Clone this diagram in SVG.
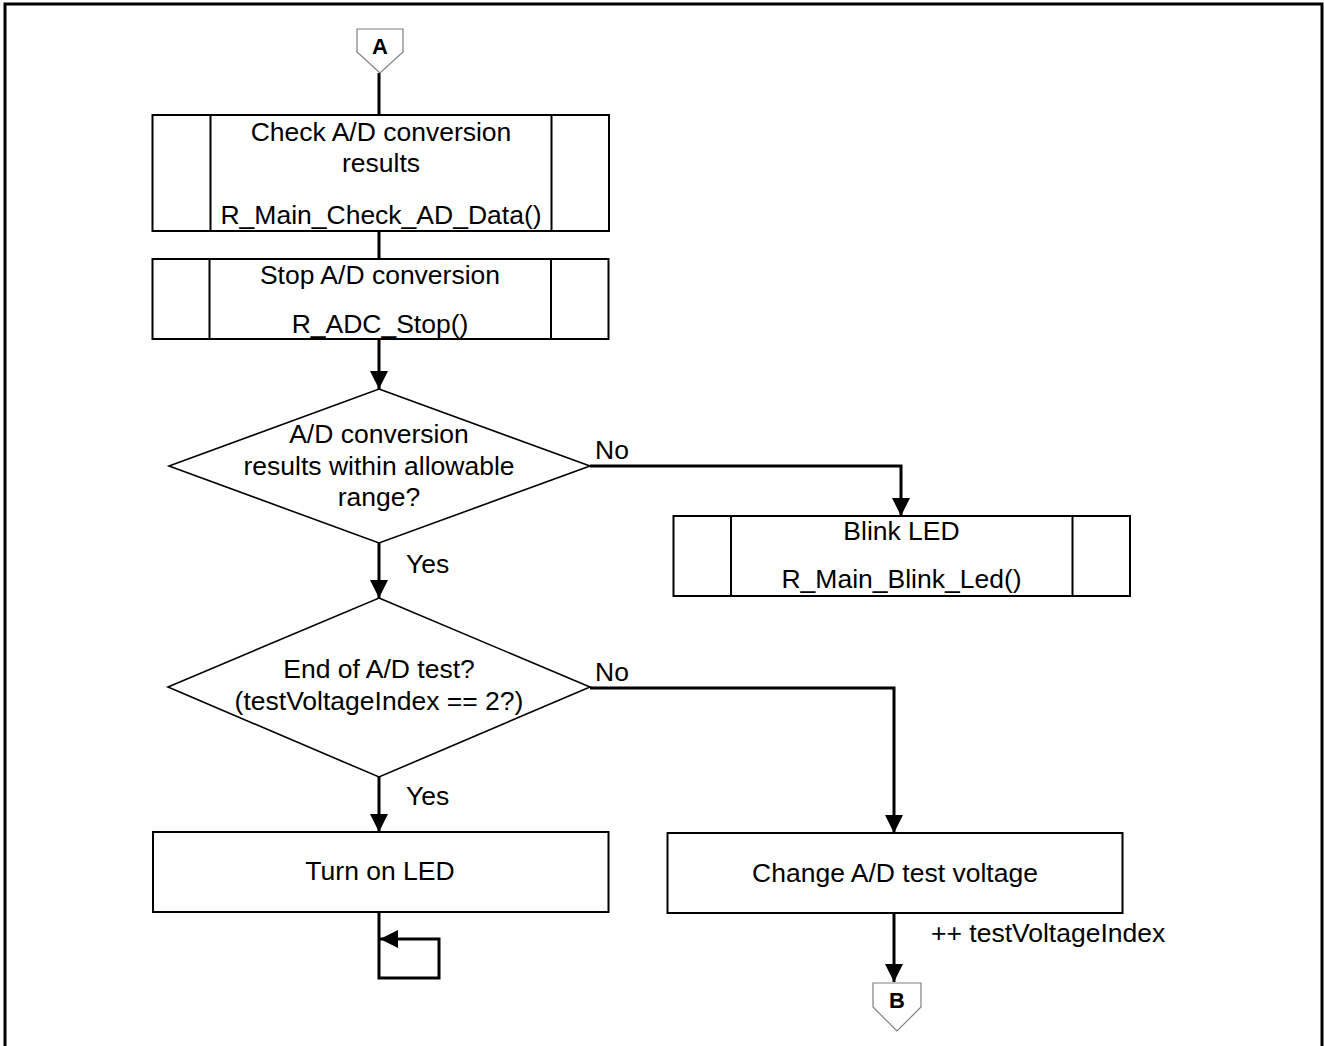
<svg xmlns="http://www.w3.org/2000/svg" width="1324" height="1046" viewBox="0 0 1324 1046">
<style>
  .box{fill:#fff;stroke:#000;stroke-width:2}
  .dia{fill:#fff;stroke:#000;stroke-width:1.6}
  .term{fill:#fff;stroke:#808080;stroke-width:1.2}
  .ln{fill:none;stroke:#000;stroke-width:3}
  .t{font-family:"Liberation Sans",Arial,sans-serif;font-size:26.5px;fill:#000;text-anchor:middle}
  .l{font-family:"Liberation Sans",Arial,sans-serif;font-size:26.5px;fill:#000}
  .tb{font-family:"Liberation Sans",Arial,sans-serif;font-size:22px;font-weight:bold;fill:#000;text-anchor:middle}
</style>
<defs>
  <marker id="arr" markerUnits="userSpaceOnUse" markerWidth="18" markerHeight="18" viewBox="0 0 16 16" refX="16" refY="8" orient="auto">
    <path d="M0,0 L16,8 L0,16 z" fill="#000"/>
  </marker>
</defs>
<rect x="5" y="4" width="1317" height="1070" fill="none" stroke="#000" stroke-width="3"/>

<g id="connectors">
  <path class="ln" d="M379,73 V115"/>
  <path class="ln" d="M379,231 V259"/>
  <path class="ln" d="M379,339 V389" marker-end="url(#arr)"/>
  <path class="ln" d="M590,466 H901 V516" marker-end="url(#arr)"/>
  <path class="ln" d="M379,543 V598" marker-end="url(#arr)"/>
  <path class="ln" d="M590,688 H894 V833" marker-end="url(#arr)"/>
  <path class="ln" d="M379,777 V832" marker-end="url(#arr)"/>
  <path class="ln" d="M894,913 V982" marker-end="url(#arr)"/>
  <path class="ln" d="M379,912 V978 H439 V939 H380" marker-end="url(#arr)"/>
</g>

<g id="termA">
  <polygon class="term" points="357,29 403,29 403,52 380,73 357,52"/>
  <text class="tb" x="380" y="54">A</text>
</g>

<g id="check">
  <rect class="box" x="152.5" y="115" width="456.5" height="116"/>
  <line class="box" x1="210.5" y1="115" x2="210.5" y2="231"/>
  <line class="box" x1="551.5" y1="115" x2="551.5" y2="231"/>
  <text class="t" x="381" y="141">Check A/D conversion</text>
  <text class="t" x="381" y="172">results</text>
  <text class="t" x="381" y="224">R_Main_Check_AD_Data()</text>
</g>

<g id="stop">
  <rect class="box" x="152.5" y="259" width="456" height="80"/>
  <line class="box" x1="209.5" y1="259" x2="209.5" y2="339"/>
  <line class="box" x1="551" y1="259" x2="551" y2="339"/>
  <text class="t" x="380" y="284">Stop A/D conversion</text>
  <text class="t" x="380" y="333">R_ADC_Stop()</text>
</g>

<g id="dec1">
  <polygon class="dia" points="379,389 590,466 379,543 169,466"/>
  <text class="t" x="379" y="443">A/D conversion</text>
  <text class="t" x="379" y="475">results within allowable</text>
  <text class="t" x="379" y="506">range?</text>
</g>

<g id="blink">
  <rect class="box" x="673.5" y="516" width="456.5" height="80"/>
  <line class="box" x1="731" y1="516" x2="731" y2="596"/>
  <line class="box" x1="1072.5" y1="516" x2="1072.5" y2="596"/>
  <text class="t" x="901.5" y="540">Blink LED</text>
  <text class="t" x="901.5" y="588">R_Main_Blink_Led()</text>
</g>

<g id="dec2">
  <polygon class="dia" points="379,598 590,687 379,777 168,687"/>
  <text class="t" x="379" y="678">End of A/D test?</text>
  <text class="t" x="379" y="710">(testVoltageIndex == 2?)</text>
</g>

<g id="turnon">
  <rect class="box" x="153" y="832" width="455.5" height="80"/>
  <text class="t" x="380" y="880">Turn on LED</text>
</g>

<g id="change">
  <rect class="box" x="667.5" y="833" width="455" height="80"/>
  <text class="t" x="895" y="882">Change A/D test voltage</text>
</g>

<g id="termB">
  <polygon class="term" points="873,983 921,983 921,1007 897,1031 873,1007"/>
  <text class="tb" x="897" y="1008">B</text>
</g>

<g id="labels">
  <text class="l" x="595" y="459">No</text>
  <text class="l" x="406" y="573">Yes</text>
  <text class="l" x="595" y="681">No</text>
  <text class="l" x="406" y="805">Yes</text>
  <text class="l" x="931" y="942">++ testVoltageIndex</text>
</g>
</svg>
